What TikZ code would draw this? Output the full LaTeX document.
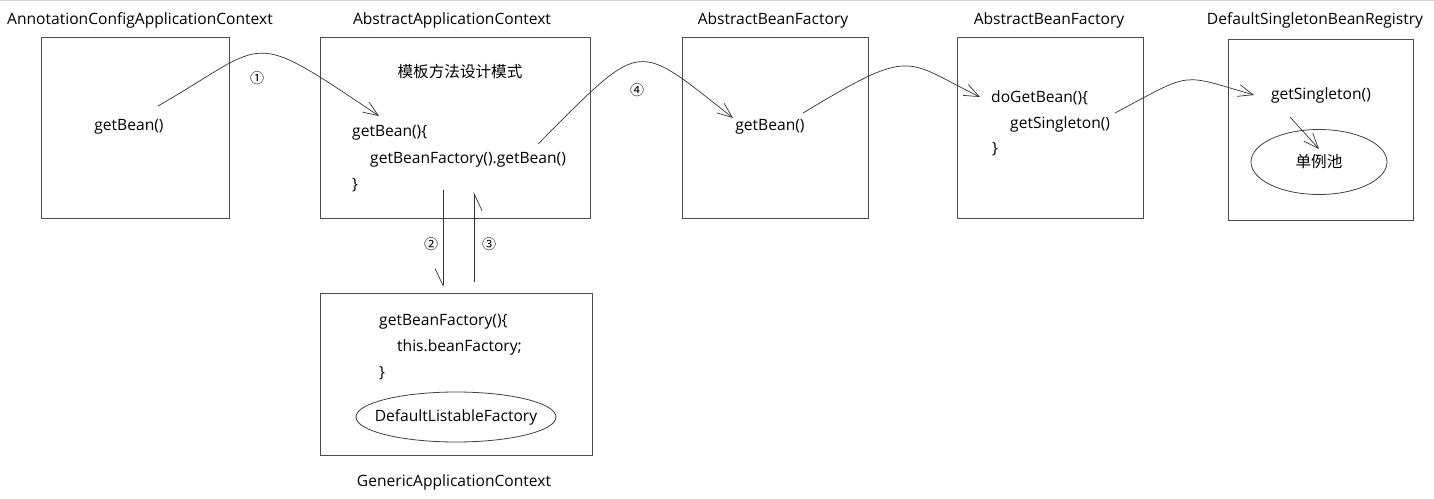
\documentclass[tikz,border=0pt]{standalone}
\usepackage{fontspec}
\setmainfont{Open Sans}
\newfontfamily\cjk{Noto Sans CJK SC}
\usetikzlibrary{arrows.meta,shapes.geometric}

\begin{document}
\begin{tikzpicture}[x=1pt, y=1pt,
  every node/.style={font=\fontsize{15.6}{18}\selectfont, inner sep=0pt, text=black},
  box/.style={draw=black!70, line width=0.9pt, minimum height=181pt},
  pool/.style={draw=black!75, ellipse, line width=0.8pt},
  flow/.style={draw=black!80, line width=0.7pt, -{Straight Barb[length=15pt,width=12pt]}},
  half/.style={draw=black!80, line width=0.7pt, -{Straight Barb[harpoon,swap,length=17pt,width=16pt]}},
  num/.style={font=\cjk\fontsize{14}{16}\selectfont}]
\useasboundingbox (0,0) rectangle (1434,-500);
\draw[gray!35, line width=1.5pt] (0,-0.75) -- (1434,-0.75);
\draw[gray!35, line width=1.5pt] (0,-499.25) -- (1434,-499.25);

% Titles
\node (annotT) at (140,-20) {AnnotationConfigApplicationContext};
\node (abstractT) at (452,-20) {AbstractApplicationContext};
\node (factoryT) at (773,-20) {AbstractBeanFactory};
\node (dofactoryT) at (1049,-20) {AbstractBeanFactory};
\node (registryT) at (1315,-20) {DefaultSingletonBeanRegistry};
\node (genericT) at (454,-482) {GenericApplicationContext};

% Boxes
\node[box, minimum width=188pt] (annot) at (135,-127.5) {};
\node[box, minimum width=270pt] (abstract) at (455,-127.5) {};
\node[box, minimum width=186pt] (factory) at (775,-127.5) {};
\node[box, minimum width=186pt] (dofactory) at (1050,-127.5) {};
\node[box, minimum width=185pt] (registry) at (1320.5,-129.5) {};
\node[box, minimum width=272pt, minimum height=162pt] (generic) at (456,-374) {};

% Contents
\node (annotGet) at (129,-127) {getBean()};
\node (tpl) at (460,-72) {\cjk 模板方法设计模式};
\node[anchor=west] (absGet) at (352,-133) {getBean()\{};
\node[anchor=west] (absCall) at (370,-160) {getBeanFactory().getBean()};
\node[anchor=west] (absEnd) at (352,-185) {\}};
\node[anchor=west] (genGet) at (379,-322) {getBeanFactory()\{};
\node[anchor=west] (genThis) at (397,-347) {this.beanFactory;};
\node[anchor=west] (genEnd) at (379,-373) {\}};
\node[pool, inner xsep=-11pt, minimum width=200pt, minimum height=50pt] (listable) at (456,-417) {DefaultListableFactory};
\node (facGet) at (770,-127) {getBean()};
\node[anchor=west] (doGet) at (991,-98) {doGetBean()\{};
\node[anchor=west] (doSingle) at (1010,-124) {getSingleton()};
\node[anchor=west] (doEnd) at (992,-149) {\}};
\node (regSingle) at (1321,-95) {getSingleton()};
\node[pool, minimum width=136pt, minimum height=65pt] (singlePool) at (1319,-162) {\cjk 单例池};

% Connections
\coordinate (s1) at (158,-106);
\coordinate (e1) at (379,-116);
\coordinate (s2) at (443,-190);
\coordinate (e2) at (443,-287);
\coordinate (s3) at (474,-282);
\coordinate (e3) at (474,-192);
\coordinate (s4) at (538,-144);
\coordinate (e4) at (733,-118);
\coordinate (s5) at (803,-113);
\coordinate (e5) at (980,-97);
\coordinate (s6) at (1115,-113);
\coordinate (e6) at (1254,-95);
\coordinate (s7) at (1290,-117);
\coordinate (e7) at (1319,-149);
\draw[flow] (s1) .. controls (271,-41) and (246,-27) .. (e1);
\draw[half] (s2) -- (e2);
\draw[half] (s3) -- (e3);
\draw[flow] (s4) .. controls (644,-38) and (634,-40) .. (e4);
\draw[flow] (s5) .. controls (914,-46) and (904,-60) .. (e5);
\draw[flow] (s6) .. controls (1194,-71) and (1179,-73.5) .. (e6);
\draw[flow] (s7) -- (e7);

% Labels
\node[num] (n1) at (257,-78) {①};
\node[num] (n2) at (431,-244) {②};
\node[num] (n3) at (489,-244) {③};
\node[num] (n4) at (637,-90) {④};
\end{tikzpicture}
\end{document}
